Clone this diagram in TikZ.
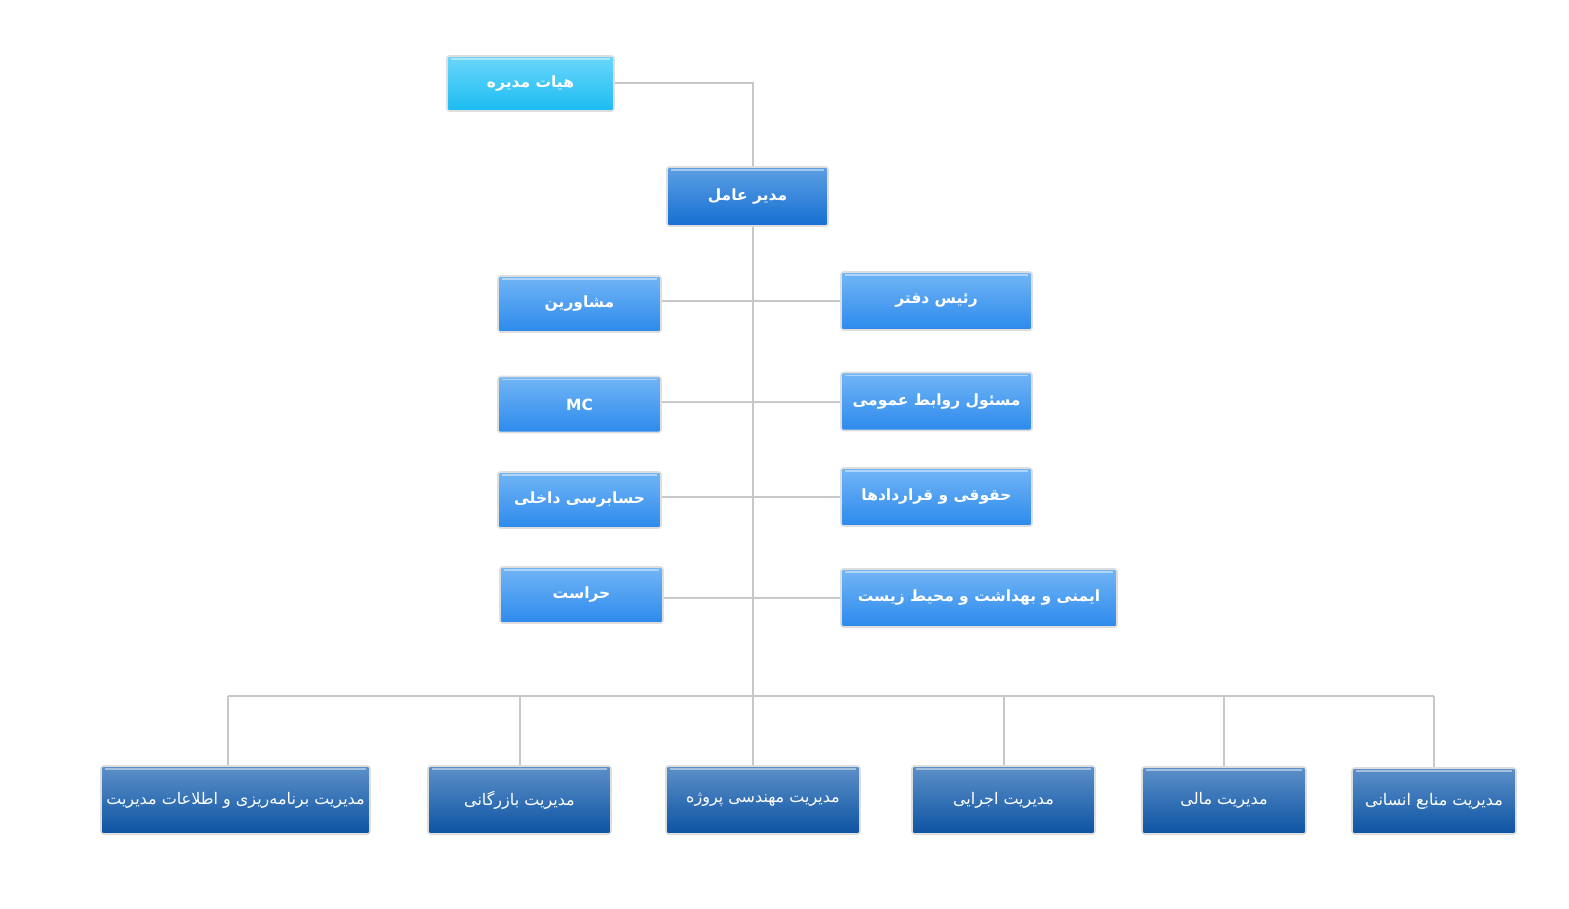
\documentclass[tikz,border=0pt]{standalone}
\usepackage{fontspec}
\newfontfamily\fafont[Script=Arabic]{DejaVu Sans}
\TeXXeTstate=1
\definecolor{boardTop}{HTML}{6AD6FB}
\definecolor{boardBot}{HTML}{1BBCF2}
\definecolor{ceoTop}{HTML}{5C9FE2}
\definecolor{ceoBot}{HTML}{166FD3}
\definecolor{staffTop}{HTML}{72B5F6}
\definecolor{staffBot}{HTML}{2C8AEC}
\definecolor{deptTop}{HTML}{5D90C8}
\definecolor{deptBot}{HTML}{0C53A3}
\definecolor{chartLine}{HTML}{C8C8C8}
\definecolor{chartRim}{HTML}{DEDEDE}
\newcommand{\fa}[1]{\fafont\beginR #1\endR}
\begin{document}
\begin{tikzpicture}[x=1pt, y=-1pt]
% chart exported in pixel units
\providecommand{\chartLineWidth}{2pt}
\providecommand{\chartRimWidth}{1.6pt}
\tikzset{
  orgbox/.style={draw=chartRim, line width=\chartRimWidth, rounded corners=2.5pt,
    inner sep=0pt, text=white, font=\fontsize{15.5}{18}\selectfont\bfseries,
    shading=axis, shading angle=0,
    path picture={\draw[white, opacity=0.45, line width=1.2pt]
      ([xshift=4pt,yshift=-3pt]path picture bounding box.north west) --
      ([xshift=-4pt,yshift=-3pt]path picture bounding box.north east);}},
  boardbox/.style={orgbox, top color=boardTop, bottom color=boardBot},
  ceobox/.style={orgbox, top color=ceoTop, bottom color=ceoBot},
  staffbox/.style={orgbox, top color=staffTop, bottom color=staffBot,
    minimum height=56pt},
  deptbox/.style={orgbox, top color=deptTop, bottom color=deptBot,
    minimum height=68pt, font=\fontsize{16}{18}\selectfont},
  link/.style={draw=chartLine, line width=\chartLineWidth}
}
\useasboundingbox[fill=white] (0,0) rectangle (1569,909);
% Top of the chart
\node[boardbox, minimum width=167pt, minimum height=55pt] (board) at (530.5,83.5) {\fa{هیات مدیره}};
\node[ceobox, minimum width=161pt, minimum height=59pt] (ceo) at (747.5,196.5) {\fa{مدیر عامل}};
% Staff units, left column
\node[staffbox, minimum width=163pt] (advisors) at (579.5,304) {\fa{مشاورین}};
\node[staffbox, minimum width=163pt] (mc) at (579.5,404.5) {\fafont MC};
\node[staffbox, minimum width=163pt] (audit) at (579.5,500) {\fa{حسابرسی داخلی}};
\node[staffbox, minimum width=163pt] (security) at (581.5,595) {\fa{حراست}};
% Staff units, right column
\node[staffbox, minimum width=191pt, minimum height=58pt] (office) at (936.5,301) {\fa{رئیس دفتر}};
\node[staffbox, minimum width=191pt, minimum height=58pt] (pr) at (936.5,401.5) {\fa{مسئول روابط عمومی}};
\node[staffbox, minimum width=191pt, minimum height=58pt] (legal) at (936.5,497) {\fa{حقوقی و قراردادها}};
\node[staffbox, minimum width=276pt, minimum height=58pt] (hse) at (979,598) {\fa{ایمنی و بهداشت و محیط زیست}};
% Departments
\node[deptbox, minimum width=269pt] (plan) at (235.5,800) {\fa{مدیریت برنامه‌ریزی و اطلاعات مدیریت}};
\node[deptbox, minimum width=183pt] (trade) at (519.5,800) {\fa{مدیریت بازرگانی}};
\node[deptbox, minimum width=194pt] (pm) at (763,800) {\fa{مدیریت مهندسی پروژه}};
\node[deptbox, minimum width=183pt] (exec) at (1003.5,800) {\fa{مدیریت اجرایی}};
\node[deptbox, minimum width=164pt, minimum height=67pt] (fin) at (1224,800.5) {\fa{مدیریت مالی}};
\node[deptbox, minimum width=164pt, minimum height=66pt] (hr) at (1434,801) {\fa{مدیریت منابع انسانی}};
\coordinate (bus) at (753,696);
% Connectors
\begin{scope}
  \draw[link] (board.east) -| (ceo.north -| bus);
  \draw[link] (ceo.south -| bus) -- (pm.north -| bus);
  \draw[link] (advisors.east |- office.west) -- (office.west);
  \draw[link] (mc.east |- pr.west) -- (pr.west);
  \draw[link] (audit.east |- legal.west) -- (legal.west);
  \draw[link] (security.east |- hse.west) -- (hse.west);
  \draw[link] ([xshift=-8pt]plan.north |- bus) -- (hr.north |- bus);
  \draw[link] ([xshift=-8pt]plan.north) -- ([xshift=-8pt]plan.north |- bus);
  \foreach \dept in {trade,exec,fin,hr}
    \draw[link] (\dept.north) -- (\dept.north |- bus);
\end{scope}
\end{tikzpicture}
\end{document}
